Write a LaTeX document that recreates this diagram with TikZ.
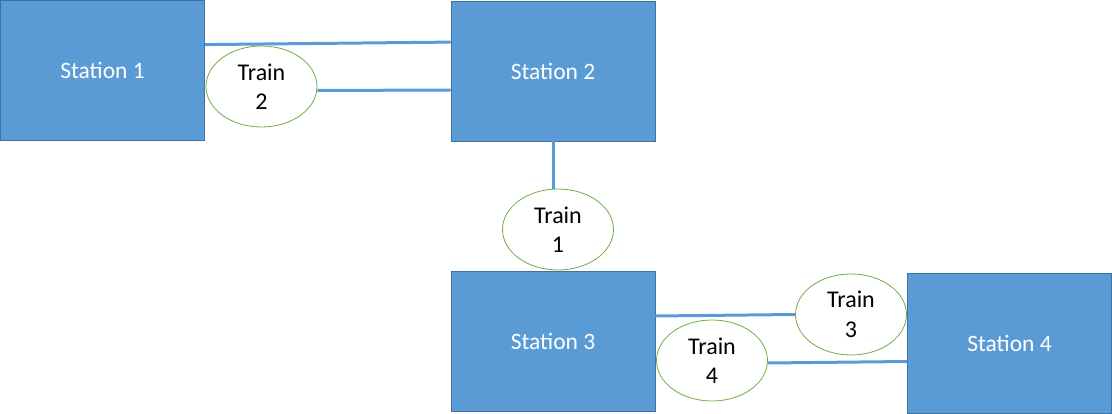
\documentclass[tikz,border=0pt]{standalone}
\usepackage{fontspec}
\setmainfont{Carlito}
\usepackage{tikz}
\usetikzlibrary{shapes,calc}
\definecolor{stationblue}{HTML}{5B9BD5}
\definecolor{stationedge}{HTML}{41719C}
\definecolor{traingreen}{HTML}{70AD47}
\tikzstyle{station}=[rectangle,fill=stationblue,draw=stationedge,line width=0.8pt,text=white,minimum width=204pt,minimum height=140pt,inner sep=0pt,font=\fontsize{23.5}{27}\selectfont]
\tikzstyle{train}=[ellipse,fill=white,draw=traingreen,line width=0.8pt,minimum width=111pt,minimum height=81pt,inner sep=0pt,align=center,font=\fontsize{24}{29.5}\selectfont]
\tikzstyle{track} = [draw,stationblue,line width=3pt]

\begin{document}
\begin{tikzpicture}[x=1pt,y=-1pt]
\useasboundingbox (0,0) rectangle (1112,414);

% Stations
    \foreach \pos/ \name/ \num in {{(102.5,70.5)/s1/1},{(553,71)/s2/2}, {(553,341)/s3/3}, {(1009.5,343)/s4/4}}
    	\node[station] (\name) at \pos {Station \num};

% Trains
    \foreach \pos/ \name/ \num in {{(261.5,86.5)/t2/2},{(558,229.5)/t1/1}, {(851,314.5)/t3/3}, {(712,360.5)/t4/4}}
    	\node[train] (\name) at \pos {Train\\\num};

% Tracks
    \path[track] ($(s1.north east)+(0,44.5)$) -- ($(s2.north west)+(0,41.5)$);
    \path[track] ($(t2.east)+(0,4)$) -- ($(t2.east -| s2.west)+(0,3.5)$);
    \path[track] (s2.south) -- (s2.south |- t1.north);
    \path[track] ($(t3.west -| s3.east)+(0,1.5)$) -- (t3.west);
    \path[track] ($(t4.east)+(0,2.5)$) -- ($(t4.east -| s4.west)+(0,1)$);

\end{tikzpicture}
\end{document}
